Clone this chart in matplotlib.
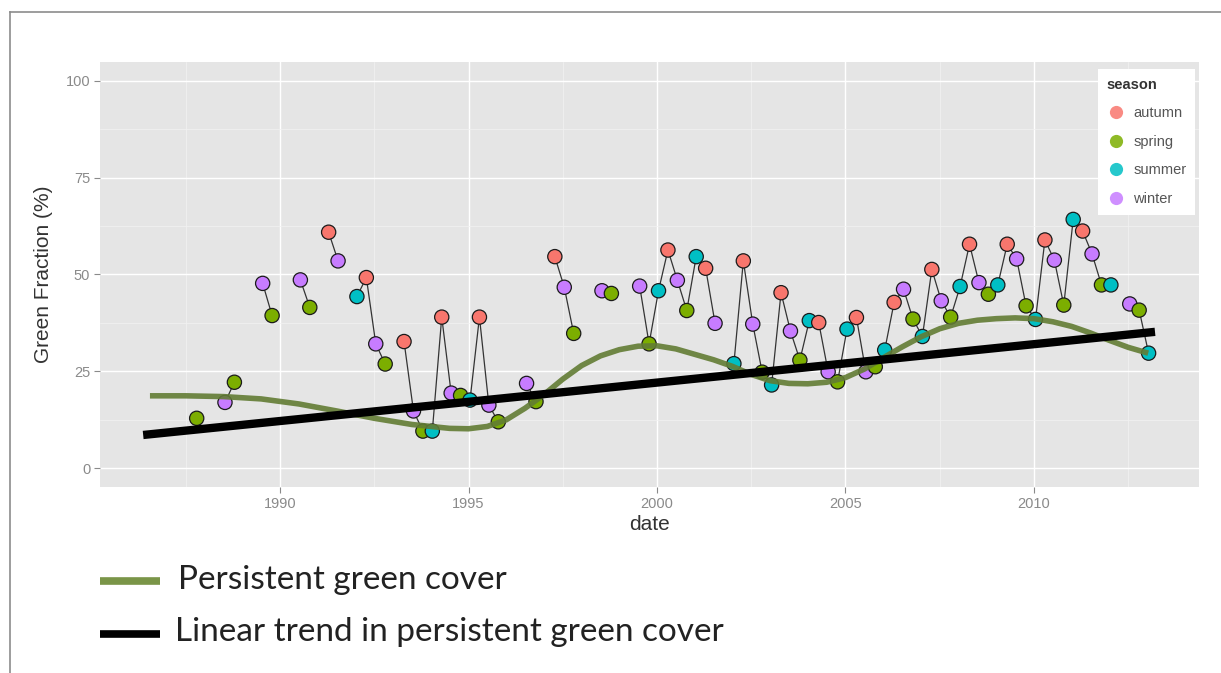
import numpy as np
import matplotlib
matplotlib.use("Agg")
import matplotlib.pyplot as plt
from matplotlib.lines import Line2D

plt.rcParams["font.family"] = ["Liberation Sans", "DejaVu Sans"]

# Observations: decimal year, green fraction (%), season
dates = [
    1987.79, 1988.54, 1988.79, 1989.54, 1989.79, 1990.54, 1990.79, 1991.29, 1991.54,
    1992.04, 1992.29, 1992.54, 1992.79, 1993.29, 1993.54, 1993.79, 1994.04, 1994.29,
    1994.54, 1994.79, 1995.04, 1995.29, 1995.54, 1995.79, 1996.54, 1996.79, 1997.29,
    1997.54, 1997.79, 1998.54, 1998.79, 1999.54, 1999.79, 2000.04, 2000.29, 2000.54,
    2000.79, 2001.04, 2001.29, 2001.54, 2002.04, 2002.29, 2002.54, 2002.79, 2003.04,
    2003.29, 2003.54, 2003.79, 2004.04, 2004.29, 2004.54, 2004.79, 2005.04, 2005.29,
    2005.54, 2005.79, 2006.04, 2006.29, 2006.54, 2006.79, 2007.04, 2007.29, 2007.54,
    2007.79, 2008.04, 2008.29, 2008.54, 2008.79, 2009.04, 2009.29, 2009.54, 2009.79,
    2010.04, 2010.29, 2010.54, 2010.79, 2011.04, 2011.29, 2011.54, 2011.79, 2012.04,
    2012.54, 2012.79, 2013.04,
]
values = [
    12.9, 17.0, 22.2, 47.7, 39.4, 48.6, 41.5, 60.9, 53.5,
    44.3, 49.2, 32.1, 26.9, 32.7, 14.8, 9.6, 9.6, 39.0,
    19.4, 18.8, 17.6, 39.0, 16.3, 12.0, 21.9, 17.2, 54.6,
    46.7, 34.8, 45.8, 45.1, 47.0, 32.1, 45.8, 56.3, 48.5,
    40.7, 54.6, 51.6, 37.4, 27.0, 53.5, 37.2, 24.8, 21.5,
    45.3, 35.4, 27.9, 38.1, 37.6, 24.9, 22.3, 35.9, 38.9,
    24.9, 26.2, 30.5, 42.8, 46.2, 38.5, 34.0, 51.3, 43.2,
    39.0, 46.9, 57.8, 47.9, 44.9, 47.3, 57.8, 54.0, 41.9,
    38.4, 58.9, 53.7, 42.1, 64.2, 61.2, 55.3, 47.3, 47.3,
    42.4, 40.8, 29.7,
]
seasons = [
    "spring", "winter", "spring", "winter", "spring", "winter", "spring", "autumn", "winter",
    "summer", "autumn", "winter", "spring", "autumn", "winter", "spring", "summer", "autumn",
    "winter", "spring", "summer", "autumn", "winter", "spring", "winter", "spring", "autumn",
    "winter", "spring", "winter", "spring", "winter", "spring", "summer", "autumn", "winter",
    "spring", "summer", "autumn", "winter", "summer", "autumn", "winter", "spring", "summer",
    "autumn", "winter", "spring", "summer", "autumn", "winter", "spring", "summer", "autumn",
    "winter", "spring", "summer", "autumn", "winter", "spring", "summer", "autumn", "winter",
    "spring", "summer", "autumn", "winter", "spring", "summer", "autumn", "winter", "spring",
    "summer", "autumn", "winter", "spring", "summer", "autumn", "winter", "spring", "summer",
    "winter", "spring", "summer",
]

# Persistent green cover (smoothed)
smooth_years = [
    1986.55, 1987.5, 1988.5, 1989.5, 1990.5, 1991.5, 1992.5, 1993.5, 1994.5, 1995.0,
    1995.5, 1996.0, 1996.5, 1997.0, 1997.5, 1998.0, 1998.5, 1999.0, 1999.5, 2000.0,
    2000.5, 2001.0, 2001.5, 2002.0, 2002.5, 2003.0, 2003.5, 2004.0, 2004.5, 2005.0,
    2005.5, 2006.0, 2006.5, 2007.0, 2007.5, 2008.0, 2008.5, 2009.0, 2009.5, 2010.0,
    2010.5, 2011.0, 2011.5, 2012.0, 2012.5, 2013.03,
]
smooth_values = [
    18.7, 18.7, 18.5, 17.9, 16.6, 14.8, 12.9, 11.3, 10.3, 10.2,
    10.8, 12.5, 15.5, 19.0, 23.0, 26.5, 29.0, 30.6, 31.5, 31.6,
    30.8, 29.4, 28.0, 26.3, 24.2, 22.6, 21.9, 21.8, 22.2, 23.4,
    25.6, 28.5, 31.3, 33.9, 36.0, 37.4, 38.2, 38.6, 38.8, 38.6,
    37.8, 36.6, 34.9, 33.0, 31.2, 29.7,
]

# Linear trend in persistent green cover
trend_years = [1986.37, 2013.21]
trend_values = [8.6, 35.2]

season_names = ["autumn", "spring", "summer", "winter"]
season_colors = {"autumn": "#F8766D", "spring": "#7CAE00",
                 "summer": "#00BFC4", "winter": "#C77CFF"}

x_ticks = [1990, 1995, 2000, 2005, 2010]
y_ticks = [0, 25, 50, 75, 100]

W, H = 1221, 673
fig = plt.figure(figsize=(W / 100, H / 100), dpi=100)
fig.patch.set_facecolor("white")

left, right, top, bottom = 100, 1199, 62, 487
ax = fig.add_axes([left / W, (H - bottom) / H, (right - left) / W, (bottom - top) / H])
ax.set_facecolor("#E5E5E5")
ax.set_xlim(1985.225, 2014.377)
ax.set_ylim(-4.82, 104.8)

for s in ax.spines.values():
    s.set_visible(False)

ax.set_xticks(x_ticks)
ax.set_xticklabels([str(t) for t in x_ticks])
ax.set_yticks(y_ticks)
ax.set_yticklabels([str(t) for t in y_ticks])
ax.set_xticks([t + 2.5 for t in [1985] + x_ticks], minor=True)
ax.set_yticks([12.5, 37.5, 62.5, 87.5], minor=True)
ax.tick_params(which="major", length=4, width=0.8, color="#8A8A8A",
               labelcolor="#8A8A8A", labelsize=10.5, pad=3)
ax.tick_params(which="minor", length=0)
ax.grid(which="major", color="white", linewidth=1.0)
ax.grid(which="minor", color="#F2F2F2", linewidth=0.5)
ax.set_axisbelow(True)

ax.set_xlabel("date", fontsize=15, color="#333333", labelpad=3)
ax.set_ylabel("Green Fraction (%)", fontsize=15, color="#333333", labelpad=9)

# Connect observations from consecutive seasons
d = np.array(dates)
v = np.array(values, dtype=float)
xs, ys = [d[0]], [v[0]]
for i in range(1, len(d)):
    if d[i] - d[i - 1] > 0.4:
        xs.append(np.nan)
        ys.append(np.nan)
    xs.append(d[i])
    ys.append(v[i])
ax.plot(xs, ys, color="#333333", linewidth=0.9, zorder=2)

ax.scatter(d, v, s=105, c=[season_colors[s] for s in seasons],
           edgecolors="#1a1a1a", linewidths=0.9, zorder=3)

ax.plot(smooth_years, smooth_values, color="#627C34", linewidth=4.0,
        alpha=0.9, solid_capstyle="butt", zorder=4)
ax.plot(trend_years, trend_values, color="black", linewidth=6.0,
        solid_capstyle="butt", zorder=5)

handles = [Line2D([], [], linestyle="none", marker="o", markersize=9.5,
                  markerfacecolor=season_colors[s], markeredgecolor="none", alpha=0.85)
           for s in season_names]
leg = ax.legend(handles, season_names, title="season", loc="upper right",
                bbox_to_anchor=(1 - 4 / 1099, 1 - 7 / 425), borderaxespad=0,
                fontsize=10.5, title_fontsize=10.5, labelspacing=1.0,
                handletextpad=0.5, handlelength=1.3, borderpad=0.6,
                frameon=True, fancybox=False, framealpha=1.0)
leg.get_frame().set_edgecolor("none")
leg.get_frame().set_facecolor("white")
leg.get_title().set_fontweight("bold")
leg.get_title().set_color("#333333")
leg._legend_box.align = "left"
for t in leg.get_texts():
    t.set_color("#555555")
leg.set_zorder(10)

# Key below the chart
def fx(px):
    return px / W

def fy(py):
    return 1 - py / H

fig.add_artist(Line2D([fx(100), fx(160)], [fy(581), fy(581)], color="#7A9548",
                      linewidth=5.5, solid_capstyle="butt"))
fig.add_artist(Line2D([fx(100), fx(160)], [fy(634), fy(634)], color="black",
                      linewidth=5.5, solid_capstyle="butt"))
fig.text(fx(178), fy(580), "Persistent green cover", fontsize=24, family="Lato",
         color="#222222", va="center", ha="left")
fig.text(fx(175), fy(632), "Linear trend in persistent green cover", fontsize=24,
         family="Lato", color="#222222", va="center", ha="left")

# Frame edges
fig.add_artist(Line2D([fx(10), fx(10)], [fy(12), 0], color="#8C8C8C", linewidth=1.2))
fig.add_artist(Line2D([fx(10), 1], [fy(12), fy(12)], color="#8C8C8C", linewidth=1.2))

fig.savefig("out.png", dpi=100)
